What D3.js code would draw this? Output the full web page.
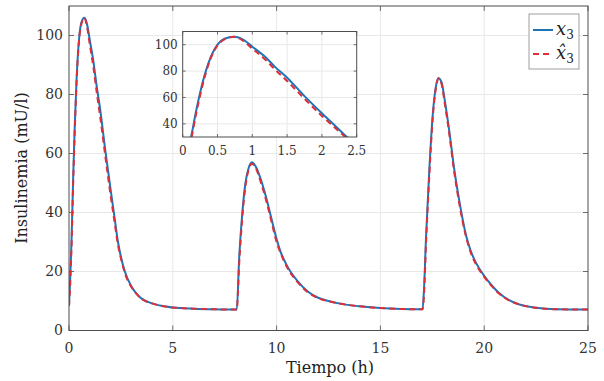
<!DOCTYPE html>
<html>
<head>
<meta charset="utf-8">
<script src="https://cdn.jsdelivr.net/npm/d3@7"></script>
<style>
  body { margin: 0; background: #fff; }
</style>
</head>
<body>
<svg id="chart" width="604" height="381"></svg>
<script>
// Insulin concentration, real (x3) and estimated (x3 hat)
const time = [0, 0.06, 0.12, 0.19, 0.27, 0.37, 0.5, 0.6, 0.74, 0.88, 1.0, 1.18, 1.33, 1.5, 1.75, 2.0, 2.2, 2.36, 2.5, 2.69, 3.0, 3.25, 3.5, 4.0, 4.65, 5.0, 6.0, 7.0, 8.08,
  8.2, 8.35, 8.5, 8.65, 8.81, 9.0, 9.25, 9.5, 9.75, 10.0, 10.15, 10.5, 11.0, 11.5, 12.0, 12.5, 13.0, 13.5, 14.0, 15.0, 16.0, 17.03,
  17.1, 17.2, 17.36, 17.52, 17.68, 17.8, 17.95, 18.1, 18.33, 18.55, 18.8, 19.1, 19.35, 19.6, 20.0, 20.4, 20.7, 21.2, 21.7, 22.5, 23.5, 25];
const x3 = [8.3, 18, 30, 49, 68, 86, 100, 104.5, 106, 103.5, 98.5, 91, 83, 75, 61, 48, 38, 30, 25, 20, 15, 12.5, 10.8, 9.2, 8.1, 7.8, 7.4, 7.2, 7.1,
  25, 40, 50, 55, 57, 55.5, 51, 45, 38, 31, 27.5, 22, 16.8, 13.2, 11.1, 10, 9.2, 8.6, 8.2, 7.6, 7.3, 7.2,
  14, 32, 55, 73, 83, 85.5, 84, 78, 67, 55, 44, 33, 27, 23, 18.5, 15, 12.8, 10.3, 8.8, 7.7, 7.2, 7.1];
const x3hat = [8.3, 16, 28, 47, 66, 85, 99.5, 104, 106, 102.5, 97, 89, 81, 72.5, 59, 46, 36.5, 29, 24.5, 19.5, 14.8, 12.4, 10.7, 9.2, 8.1, 7.8, 7.4, 7.2, 7.1,
  23, 38.5, 49, 54.5, 56.5, 55, 50, 44, 37, 30, 27, 21.5, 16.5, 13, 11, 9.9, 9.2, 8.6, 8.2, 7.6, 7.3, 7.2,
  12, 30, 53, 72, 82.5, 85.5, 83.5, 77, 66, 54, 43, 32.5, 26.5, 22.5, 18.2, 14.8, 12.6, 10.2, 8.8, 7.7, 7.2, 7.1];

const xTicks = [0, 5, 10, 15, 20, 25];
const yTicks = [0, 20, 40, 60, 80, 100];
const insetXTicks = [0, 0.5, 1, 1.5, 2, 2.5];
const insetYTicks = [40, 60, 80, 100];

const blue = "#1f74b8";
const red = "#dc2f3a";
const axisColor = "#4d4d4d";
const gridColor = "#e8e8e8";
const serif = "DejaVu Serif";

const svg = d3.select("#chart").attr("font-family", serif);
const series = [
  { values: x3, color: blue, dash: null },
  { values: x3hat, color: red, dash: "6,4" }
];

function drawAxes(g, x, y, xt, yt, opts) {
  const [x0, x1] = x.range();
  const [y0, y1] = y.range();
  g.append("rect").attr("x", x0).attr("y", y1).attr("width", x1 - x0).attr("height", y0 - y1).attr("fill", "#fff");
  // grid
  g.append("g").selectAll("line").data(xt.slice(1, -1)).join("line")
    .attr("x1", d => x(d)).attr("x2", d => x(d)).attr("y1", y0).attr("y2", y1)
    .attr("stroke", gridColor).attr("stroke-width", 1);
  g.append("g").selectAll("line").data(yt.filter(d => d > y.domain()[0] && d < y.domain()[1])).join("line")
    .attr("y1", d => y(d)).attr("y2", d => y(d)).attr("x1", x0).attr("x2", x1)
    .attr("stroke", gridColor).attr("stroke-width", 1);
  // inward ticks
  const tl = opts.tick;
  g.append("g").selectAll("path").data(xt).join("path")
    .attr("d", d => `M${x(d)},${y0}v${-tl}M${x(d)},${y1}v${tl}`)
    .attr("stroke", axisColor).attr("stroke-width", 0.8);
  g.append("g").selectAll("path").data(yt).join("path")
    .attr("d", d => `M${x0},${y(d)}h${tl}M${x1},${y(d)}h${-tl}`)
    .attr("stroke", axisColor).attr("stroke-width", 0.8);
  // labels
  g.append("g").selectAll("text").data(xt).join("text")
    .attr("x", d => x(d)).attr("y", y0 + opts.xLabelOff)
    .attr("text-anchor", "middle").attr("font-size", opts.fs).attr("fill", "#333")
    .attr("font-family", serif)
    .text(d => d);
  g.append("g").selectAll("text").data(yt).join("text")
    .attr("x", x0 - opts.yLabelOff).attr("y", d => y(d)).attr("dy", "0.35em")
    .attr("text-anchor", "end").attr("font-size", opts.fs).attr("fill", "#333")
    .attr("font-family", serif)
    .text(d => d);
}

function drawLines(g, x, y, clipId) {
  const line = d3.line().x((d, i) => x(time[i])).y(d => y(d)).curve(d3.curveMonotoneX);
  series.forEach(s => {
    g.append("path").datum(s.values)
      .attr("d", line)
      .attr("fill", "none")
      .attr("stroke", s.color)
      .attr("stroke-width", 2)
      .attr("stroke-dasharray", s.dash)
      .attr("stroke-linejoin", "round")
      .attr("clip-path", `url(#${clipId})`);
  });
}

function drawBox(g, x, y) {
  const [x0, x1] = x.range();
  const [y0, y1] = y.range();
  g.append("rect").attr("x", x0).attr("y", y1).attr("width", x1 - x0).attr("height", y0 - y1)
    .attr("fill", "none").attr("stroke", axisColor).attr("stroke-width", 1);
}

// Main axes
const x = d3.scaleLinear().domain([0, 25]).range([69, 588]);
const y = d3.scaleLinear().domain([0, 110]).range([330.5, 6]);
const main = svg.append("g");
drawAxes(main, x, y, xTicks, yTicks, { tick: 5, fs: 14, xLabelOff: 22, yLabelOff: 6 });
svg.append("clipPath").attr("id", "clipMain").append("rect")
  .attr("x", 69).attr("y", 6).attr("width", 519).attr("height", 324.5);
drawLines(main, x, y, "clipMain");
drawBox(main, x, y);

main.append("text").attr("x", 330).attr("y", 373).attr("text-anchor", "middle")
  .attr("font-family", serif).attr("font-size", 16).attr("fill", "#222").text("Tiempo (h)");
main.append("text").attr("transform", "translate(27,168) rotate(-90)").attr("text-anchor", "middle")
  .attr("font-family", serif).attr("font-size", 16).attr("fill", "#222").text("Insulinemia (mU/l)");

// Inset axes
const xi = d3.scaleLinear().domain([0, 2.5]).range([182.7, 356.7]);
const yi = d3.scaleLinear().domain([30, 110]).range([137, 31.5]);
const inset = svg.append("g");
drawAxes(inset, xi, yi, insetXTicks, insetYTicks, { tick: 3, fs: 12, xLabelOff: 18, yLabelOff: 5 });
svg.append("clipPath").attr("id", "clipInset").append("rect")
  .attr("x", 182.7).attr("y", 31.5).attr("width", 174).attr("height", 105.5);
drawLines(inset, xi, yi, "clipInset");
drawBox(inset, xi, yi);

// Legend
const lg = svg.append("g").attr("transform", "translate(529,14)");
lg.append("rect").attr("width", 50).attr("height", 55).attr("fill", "#fff")
  .attr("stroke", "#888").attr("stroke-width", 0.8);
const entries = [{ s: series[0], label: "x" }, { s: series[1], label: "x\u0302" }];
entries.forEach((e, i) => {
  const cy = 16 + i * 24;
  lg.append("line").attr("x1", 4).attr("x2", 24).attr("y1", cy).attr("y2", cy)
    .attr("stroke", e.s.color).attr("stroke-width", 2).attr("stroke-dasharray", e.s.dash);
  const t = lg.append("text").attr("x", 27).attr("y", cy + 5).attr("font-size", 18)
    .attr("font-family", serif).attr("fill", "#222");
  t.append("tspan").attr("font-style", "italic").text(e.label);
  t.append("tspan").attr("font-size", 12).attr("dy", 4).text("3");
});
</script>
</body>
</html>
